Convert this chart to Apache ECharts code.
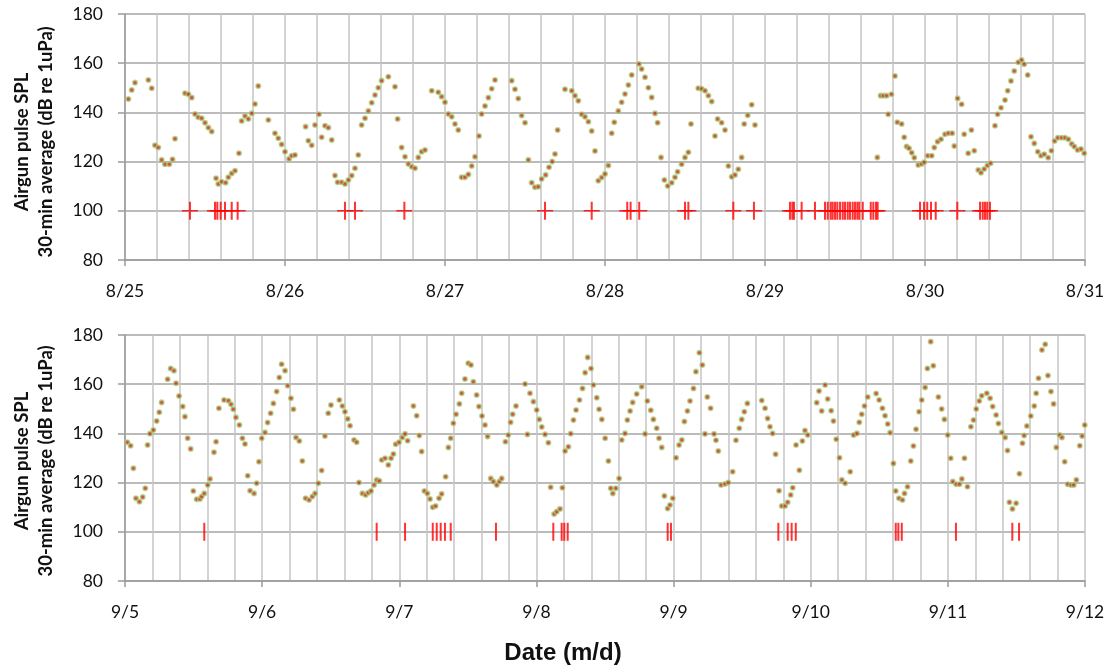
<!DOCTYPE html>
<html><head><meta charset="utf-8">
<script src="https://cdn.jsdelivr.net/npm/echarts@6/dist/echarts.min.js"></script>
<style>html,body{margin:0;padding:0;background:#fff}#c{width:1109px;height:668px}</style>
</head><body><div id="c"></div><script>
// ---- Top panel: 8/25 - 8/31 (time = days since 8/25 00:00) ----
const augTime = [0.021,0.042,0.0625,0.146,0.167,0.1875,0.208,0.229,0.25,0.277,0.297,0.3125,0.375,0.396,0.417,0.4375,0.458,0.479,0.5,0.521,0.542,0.569,0.583,0.604,0.629,0.646,0.667,0.6875,0.7125,0.729,0.75,0.771,0.792,0.8125,0.833,0.896,0.9375,0.958,0.979,1.0,1.025,1.042,1.0625,1.129,1.146,1.167,1.1875,1.2125,1.229,1.25,1.271,1.292,1.3125,1.329,1.354,1.375,1.396,1.417,1.4375,1.458,1.479,1.5,1.521,1.542,1.5625,1.583,1.604,1.646,1.6875,1.704,1.729,1.75,1.771,1.792,1.8125,1.833,1.854,1.875,1.917,1.958,1.979,2.0,2.021,2.042,2.0625,2.083,2.104,2.125,2.146,2.167,2.1875,2.2125,2.229,2.25,2.271,2.292,2.3125,2.417,2.4375,2.458,2.479,2.5,2.521,2.542,2.5625,2.583,2.604,2.629,2.65,2.67,2.6875,2.704,2.75,2.792,2.8125,2.833,2.854,2.875,2.896,2.917,2.9375,2.958,2.979,3.0,3.021,3.042,3.058,3.083,3.104,3.125,3.146,3.167,3.2125,3.229,3.25,3.271,3.292,3.3125,3.329,3.35,3.371,3.392,3.417,3.4375,3.454,3.479,3.5,3.521,3.5375,3.583,3.604,3.625,3.646,3.667,3.6875,3.704,3.729,3.75,3.771,3.792,3.8125,3.833,3.854,3.87,3.892,3.917,3.9375,4.702,4.723,4.74,4.76,4.77,4.79,4.8125,4.827,4.854,4.87,4.885,4.9,4.917,4.933,4.958,4.979,4.995,5.017,5.042,5.058,5.079,5.1,5.125,5.146,5.17,5.183,5.204,5.229,5.245,5.27,5.29,5.308,5.333,5.35,5.37,5.39,5.41,5.4375,5.454,5.475,5.5,5.517,5.5375,5.558,5.583,5.604,5.62,5.642,5.6625,5.683,5.705,5.725,5.745,5.77,5.79,5.81,5.83,5.854,5.875,5.896,5.917,5.933,5.954,5.975,5.995];
const augSpl = [145.4,149.1,152.1,153.2,149.8,126.6,125.7,120.7,118.9,118.9,120.9,129.3,147.8,147.4,146.0,139.3,138.0,137.6,135.8,133.8,132.2,113.2,110.9,111.8,111.4,113.6,115.2,116.3,123.4,136.5,138.5,137.3,139.6,143.4,150.7,136.9,131.5,129.5,127.0,124.0,121.1,122.4,122.7,134.2,128.5,126.6,134.9,139.2,129.9,134.6,133.8,128.8,114.3,111.6,111.6,110.9,112.5,114.3,117.3,122.7,134.9,137.6,140.6,143.9,147.1,150.0,152.9,154.5,150.4,137.3,125.7,122.0,119.0,117.9,117.3,121.7,124.0,124.7,148.8,148.2,146.4,144.1,139.3,138.2,135.3,132.8,113.6,113.6,114.8,118.2,122.0,130.4,139.3,142.6,146.0,149.6,153.2,152.9,149.4,145.6,138.7,135.8,120.7,111.4,109.6,109.8,112.9,114.6,117.7,120.0,123.1,132.8,149.4,148.8,146.8,144.7,139.2,138.2,136.2,132.4,124.3,112.2,113.5,115.0,118.4,131.5,136.0,140.6,144.1,147.5,151.1,155.2,159.7,157.6,154.3,150.0,146.1,139.6,135.8,121.7,112.5,110.1,111.4,113.6,115.9,118.9,121.7,123.8,135.3,149.8,149.6,148.8,146.8,144.4,130.4,137.3,135.8,132.8,118.2,113.8,114.6,116.9,121.7,135.3,138.8,143.1,134.9,121.7,146.8,146.8,146.8,139.2,147.4,154.8,136.0,135.3,129.9,126.1,125.4,123.6,121.6,118.6,119.0,119.7,122.4,122.4,125.7,128.1,129.1,131.1,131.5,131.5,126.3,145.7,143.3,131.1,123.4,132.8,124.4,116.6,115.5,117.0,118.4,119.3,134.6,139.2,141.9,145.0,148.8,152.8,156.8,160.4,161.3,159.6,155.2,130.1,127.4,124.0,122.4,123.0,121.6,124.4,128.4,129.7,129.7,129.7,129.1,127.2,126.1,124.7,125.1,123.4];
const augAirgun = [0.406,0.5625,0.577,0.598,0.625,0.667,0.704,1.375,1.4375,1.746,2.625,2.917,3.139,3.16,3.214,3.5,3.521,3.802,3.931,4.156,4.171,4.181,4.229,4.3125,4.375,4.392,4.411,4.423,4.4375,4.452,4.469,4.486,4.5,4.517,4.531,4.548,4.5625,4.577,4.589,4.611,4.661,4.677,4.694,4.704,4.969,4.994,5.014,5.0375,5.067,5.202,5.344,5.361,5.375,5.389,5.406];
const augTicks = ['8/25','8/26','8/27','8/28','8/29','8/30','8/31'];

// ---- Bottom panel: 9/5 - 9/12 (time = days since 9/5 00:00) ----
const sepTime = [0.017,0.041,0.061,0.080,0.105,0.129,0.148,0.165,0.182,0.207,0.231,0.250,0.267,0.311,0.333,0.357,0.372,0.394,0.421,0.437,0.457,0.479,0.498,0.523,0.547,0.559,0.578,0.603,0.620,0.649,0.664,0.685,0.722,0.754,0.773,0.790,0.809,0.834,0.856,0.875,0.895,0.912,0.941,0.960,0.977,0.997,1.021,1.040,1.062,1.082,1.106,1.125,1.142,1.167,1.186,1.210,1.228,1.247,1.271,1.293,1.317,1.342,1.366,1.386,1.410,1.434,1.458,1.482,1.502,1.563,1.585,1.604,1.624,1.641,1.670,1.689,1.706,1.731,1.755,1.774,1.794,1.816,1.835,1.855,1.872,1.896,1.920,1.940,1.957,1.974,1.998,2.022,2.042,2.061,2.103,2.127,2.146,2.163,2.183,2.205,2.224,2.244,2.265,2.290,2.309,2.338,2.358,2.375,2.394,2.414,2.438,2.455,2.479,2.503,2.523,2.540,2.564,2.581,2.603,2.625,2.644,2.667,2.686,2.711,2.730,2.747,2.774,2.795,2.812,2.827,2.851,2.917,2.934,2.953,2.978,3.002,3.021,3.039,3.063,3.087,3.104,3.129,3.148,3.172,3.189,3.209,3.233,3.25,3.270,3.289,3.314,3.336,3.355,3.374,3.398,3.416,3.440,3.457,3.477,3.501,3.525,3.542,3.557,3.579,3.603,3.622,3.646,3.663,3.683,3.702,3.731,3.768,3.792,3.809,3.834,3.853,3.877,3.894,3.914,3.933,3.957,3.974,3.994,4.018,4.040,4.060,4.079,4.101,4.120,4.145,4.163,4.188,4.210,4.229,4.246,4.270,4.295,4.309,4.326,4.346,4.375,4.399,4.431,4.455,4.479,4.497,4.516,4.538,4.643,4.667,4.686,4.703,4.722,4.744,4.769,4.789,4.813,4.832,4.854,4.869,4.893,4.917,4.939,4.958,4.978,5.044,5.061,5.080,5.105,5.124,5.149,5.166,5.186,5.210,5.227,5.251,5.288,5.313,5.337,5.354,5.372,5.392,5.416,5.477,5.499,5.523,5.542,5.562,5.579,5.603,5.620,5.644,5.669,5.684,5.706,5.730,5.749,5.768,5.790,5.810,5.834,5.851,5.875,5.894,5.931,5.955,5.975,5.999,6.021,6.036,6.061,6.085,6.102,6.121,6.143,6.168,6.187,6.207,6.229,6.247,6.284,6.308,6.327,6.352,6.369,6.393,6.418,6.435,6.449,6.471,6.498,6.522,6.544,6.556,6.576,6.605,6.630,6.644,6.661,6.686,6.710,6.730,6.752,6.771,6.791,6.815,6.832,6.852,6.874,6.898,6.918,6.937,6.962,6.979,6.998];
const sepSpl = [136.4,135.0,125.8,113.6,112.2,114.1,117.7,135.3,139.9,141.4,145.0,148.6,152.6,162.0,166.4,165.5,160.4,155.2,150.9,146.8,138.0,133.7,116.6,113.2,113.3,114.3,115.6,119.0,121.5,132.3,136.6,150.2,153.6,153.3,151.8,149.8,146.5,143.4,138.0,135.7,122.8,116.7,115.6,119.7,128.5,138.0,140.4,144.4,148.2,152.2,157.0,162.7,168.1,165.5,159.4,154.3,149.8,138.3,136.9,128.8,113.6,112.9,114.3,115.6,119.7,124.9,138.9,148.2,151.5,153.6,151.1,148.8,145.9,143.1,137.3,136.4,120.0,115.6,115.0,115.9,116.6,119.0,121.1,120.7,129.2,129.9,127.2,129.9,131.6,135.6,136.4,138.3,139.8,137.0,151.1,147.2,139.1,132.6,116.6,115.6,113.3,110.0,110.5,113.6,115.4,122.4,134.3,138.0,144.1,147.8,152.0,156.3,162.1,168.5,167.8,161.0,155.6,150.9,147.1,143.4,138.7,121.7,120.4,119.0,120.4,121.7,136.6,139.3,144.5,147.8,151.1,160.1,139.6,156.3,152.9,149.5,145.7,142.6,139.6,136.2,118.1,107.2,108.2,109.3,117.9,132.8,134.6,139.9,145.4,149.5,153.6,158.3,164.7,170.9,166.4,159.7,154.5,149.8,145.7,138.0,128.8,117.7,115.6,117.7,121.7,137.3,140.0,145.4,149.1,152.6,156.0,159.0,139.8,153.2,149.4,145.7,142.1,138.0,134.3,114.6,109.5,110.9,113.6,130.1,135.3,137.3,144.8,149.1,153.2,158.3,165.1,172.8,167.8,139.8,154.8,150.2,139.8,137.2,132.8,119.0,119.4,120.0,124.4,137.2,142.1,145.7,148.8,152.2,153.4,150.2,146.1,142.7,140.0,131.5,116.7,110.5,110.5,112.0,115.0,117.9,135.3,125.0,136.9,141.2,139.3,152.5,157.2,149.1,159.7,154.0,149.2,145.0,137.6,130.1,121.1,119.7,124.4,139.3,140.0,144.5,147.8,151.1,154.8,156.2,153.6,150.2,147.2,143.8,140.3,127.8,116.6,113.6,112.9,115.6,118.3,128.8,134.9,141.7,148.8,153.6,158.7,166.4,177.3,167.5,154.8,149.9,145.7,139.3,129.9,120.4,119.3,119.3,121.5,129.9,118.3,142.7,145.4,149.9,153.2,155.3,156.3,154.3,150.9,147.5,144.0,140.4,138.3,133.0,112.0,109.3,111.6,123.6,136.0,139.1,143.0,147.1,151.1,156.3,162.4,173.9,176.2,163.5,157.0,152.0,134.3,139.3,138.3,128.5,119.3,119.0,119.0,121.1,135.0,138.9,143.4];
const sepAirgun = [0.578,1.835,2.042,2.244,2.273,2.302,2.333,2.375,2.705,3.123,3.184,3.203,3.228,3.957,3.981,4.764,4.832,4.861,4.891,5.62,5.639,5.664,6.059,6.470,6.519];
const sepTicks = ['9/5','9/6','9/7','9/8','9/9','9/10','9/11','9/12'];

const yMin = 80, yMax = 180, yStep = 20;
const airgunLevel = 100;   // level at which airgun-activity marks are plotted

const zip = (a, b) => a.map((v, i) => [v, b[i]]);
const marks = a => a.map(t => [t, airgunLevel]);

const FONT = 'Lato';
const grids = [
  {left: 125, right: 24, top: 14, height: 246},
  {left: 125, right: 24, top: 335, height: 246}
];
function xPair(gi, maxDay, ticks) {
  return [
    {gridIndex: gi, type: 'value', min: 0, max: maxDay, interval: 0.2, position: 'bottom',
     axisLine: {show: false}, axisTick: {show: false}, axisLabel: {show: false},
     splitLine: {show: true, lineStyle: {color: '#c4c4c4', width: 1.5}}},
    {gridIndex: gi, type: 'value', min: 0, max: maxDay, interval: 1, position: 'bottom',
     axisLine: {show: true, lineStyle: {color: '#9a9a9a', width: 1.5}},
     axisTick: {show: true, length: 6, lineStyle: {color: '#9a9a9a', width: 1.5}},
     axisLabel: {show: true, margin: 22, fontFamily: FONT, fontSize: 17.5, color: '#111',
       formatter: v => ticks[Math.round(v)] || ''},
     splitLine: {show: false}}
  ];
}
function yAx(gi) {
  return {gridIndex: gi, type: 'value', min: yMin, max: yMax, interval: yStep,
    axisLine: {show: true, lineStyle: {color: '#9a9a9a', width: 1.5}},
    axisTick: {show: true, length: 7, lineStyle: {color: '#9a9a9a', width: 1.5}},
    axisLabel: {margin: 22, fontFamily: FONT, fontSize: 17.5, color: '#111'},
    splitLine: {show: true, lineStyle: {color: '#a4a4a4', width: 1.5}}};
}
const dotStyle = {color: '#c8261a', borderColor: 'rgba(165,205,115,0.9)', borderWidth: 1.6};
const plusSym = 'path://M0,8.2 L16,8.2 L16,9.8 L0,9.8 Z M7,0 L9,0 L9,18 L7,18 Z';
const yName1 = 'Airgun pulse SPL';
const yName2 = '30-min average (dB re 1uPa)';
const LBL = 'bold 18.5px Lato';

const option = {
  animation: false,
  backgroundColor: '#fff',
  grid: grids,
  xAxis: [...xPair(0, 6, augTicks), ...xPair(1, 7, sepTicks)],
  yAxis: [yAx(0), yAx(1)],
  series: [
    {type: 'scatter', xAxisIndex: 0, yAxisIndex: 0, data: zip(augTime, augSpl),
     symbol: 'circle', symbolSize: 4.5, itemStyle: dotStyle, z: 5},
    {type: 'scatter', xAxisIndex: 0, yAxisIndex: 0, data: marks(augAirgun),
     symbol: plusSym, symbolSize: [16, 18], itemStyle: {color: '#ff0000'}, z: 4},
    {type: 'scatter', xAxisIndex: 2, yAxisIndex: 1, data: zip(sepTime, sepSpl),
     symbol: 'circle', symbolSize: 4.5, itemStyle: dotStyle, z: 5},
    {type: 'scatter', xAxisIndex: 2, yAxisIndex: 1, data: marks(sepAirgun),
     symbol: 'rect', symbolSize: [2, 18], itemStyle: {color: '#ff0000'}, z: 4}
  ],
  graphic: [
    {type: 'text', x: 22, y: 142, rotation: Math.PI / 2,
     style: {text: yName1, font: LBL, fill: '#111', align: 'center', verticalAlign: 'middle'}},
    {type: 'text', x: 46, y: 142, rotation: Math.PI / 2,
     style: {text: yName2, font: LBL, fill: '#111', align: 'center', verticalAlign: 'middle'}},
    {type: 'text', x: 22, y: 461, rotation: Math.PI / 2,
     style: {text: yName1, font: LBL, fill: '#111', align: 'center', verticalAlign: 'middle'}},
    {type: 'text', x: 46, y: 461, rotation: Math.PI / 2,
     style: {text: yName2, font: LBL, fill: '#111', align: 'center', verticalAlign: 'middle'}},
    {type: 'text', x: 563, y: 653,
     style: {text: 'Date (m/d)', font: 'bold 24px "Liberation Sans"', fill: '#111', align: 'center', verticalAlign: 'middle'}}
  ]
};
const chart = echarts.init(document.getElementById('c'), null, {renderer: 'canvas'});
chart.setOption(option);
</script></body></html>
